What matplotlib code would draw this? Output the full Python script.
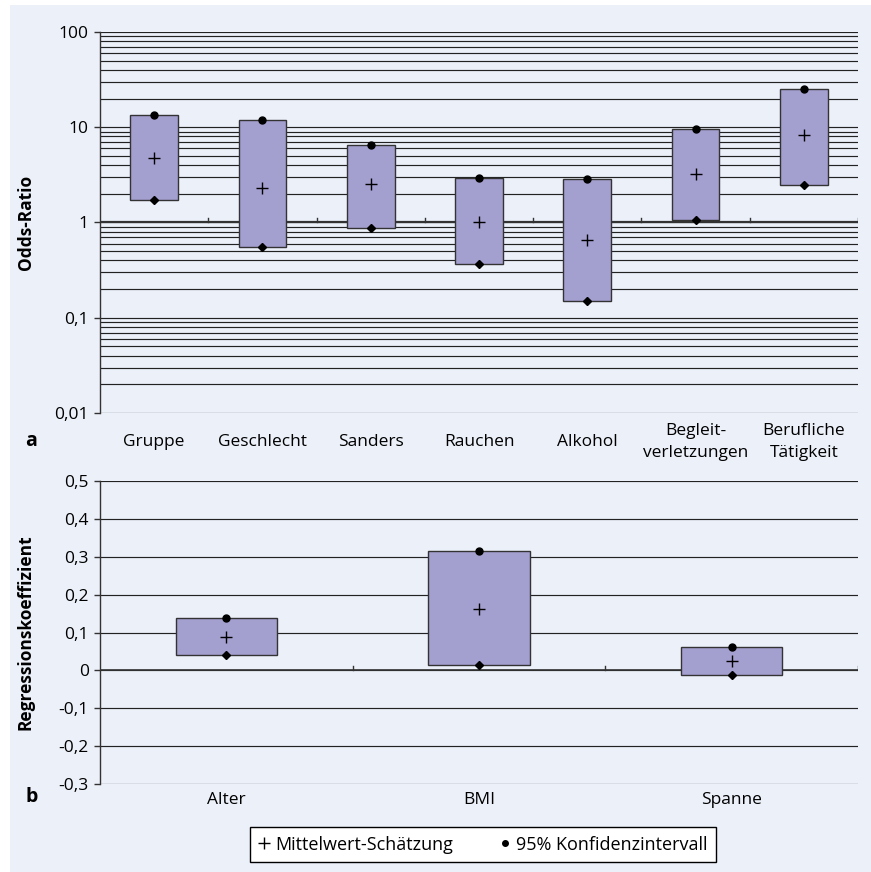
import numpy as np
import matplotlib.pyplot as plt
import matplotlib.patches as mpatches
from matplotlib.lines import Line2D

plt.rcParams['font.family'] = ['Open Sans', 'DejaVu Sans']

# panel a: odds ratios
cats_a = ['Gruppe', 'Geschlecht', 'Sanders', 'Rauchen', 'Alkohol',
          'Begleit-\nverletzungen', 'Berufliche\nTätigkeit']
or_mean = [4.75, 2.32, 2.55, 1.02, 0.66, 3.2, 8.2]
or_low = [1.73, 0.55, 0.88, 0.37, 0.15, 1.05, 2.5]
or_high = [13.5, 12.0, 6.5, 2.95, 2.84, 9.5, 25.0]
a_ticks = [0.01, 0.1, 1, 10, 100]
a_ticklabels = ['0,01', '0,1', '1', '10', '100']

# panel b: regression coefficients
cats_b = ['Alter', 'BMI', 'Spanne']
rc_mean = [0.089, 0.161, 0.025]
rc_low = [0.040, 0.014, -0.013]
rc_high = [0.139, 0.314, 0.062]
b_ticks = [-0.3, -0.2, -0.1, 0, 0.1, 0.2, 0.3, 0.4, 0.5]
b_ticklabels = ['-0,3', '-0,2', '-0,1', '0', '0,1', '0,2', '0,3', '0,4', '0,5']

bg = '#ecf0f9'
box_col = '#a39fcf'
grid_col = '#222222'
W, H = 871, 872

fig = plt.figure(figsize=(W / 100, H / 100), dpi=100, facecolor='white')
fig.patches.append(mpatches.Rectangle((10 / W, 0), 1 - 10 / W, 1 - 5 / H,
                                      transform=fig.transFigure, facecolor=bg,
                                      edgecolor='none', zorder=-5))

left = 100 / W
width = (858 - 100) / W
ax1 = fig.add_axes([left, 1 - 413 / H, width, (413 - 32) / H])
ax2 = fig.add_axes([left, 1 - 784 / H, width, (784 - 481) / H])


def style(ax, ticks, labels, ylab):
    ax.set_facecolor('none')
    for s in ['top', 'right', 'bottom']:
        ax.spines[s].set_visible(False)
    ax.spines['left'].set_color('#333333')
    ax.spines['left'].set_linewidth(1.0)
    ax.set_yticks(ticks, labels)
    ax.tick_params(axis='y', which='major', length=4, width=1, color='#333333',
                   labelsize=12.5, pad=4)
    ax.tick_params(axis='y', which='minor', length=0, labelleft=False)
    ax.tick_params(axis='x', length=0, labelsize=12.5)
    ax.set_ylabel(ylab, fontsize=12.5, fontweight='bold')
    ax.yaxis.set_label_coords(-65 / 758, 0.5)
    ax.set_axisbelow(True)


# ---- panel a
x_a = np.arange(len(cats_a)) + 0.5
ax1.set_yscale('log')
ax1.set_ylim(0.01, 100)
ax1.set_xlim(0, len(cats_a))
style(ax1, a_ticks, a_ticklabels, 'Odds-Ratio')
ax1.grid(True, axis='y', which='both', color=grid_col, lw=0.85)
ax1.axhline(1, color='#333333', lw=1.6, zorder=1)
f1 = (np.log10(1) - np.log10(0.01)) / (np.log10(100) - np.log10(0.01))
for k in range(1, len(cats_a) + 1):
    ax1.axvline(k, ymin=f1, ymax=f1 + 0.012, color='#333333', lw=1)

lo = np.array(or_low)
hi = np.array(or_high)
ax1.bar(x_a, hi - lo, bottom=lo, width=0.44, color=box_col,
        edgecolor='#333333', lw=1, zorder=3)
ax1.plot(x_a, or_high, 'o', color='black', ms=5, zorder=4)
ax1.plot(x_a, or_low, 'D', color='black', ms=3.8, zorder=4)
ax1.plot(x_a, or_mean, '+', color='black', ms=9, mew=1, zorder=4)
ax1.set_xticks(x_a, cats_a)
ax1.tick_params(axis='x', pad=21)
for t in ax1.get_xticklabels():
    t.set_va('center')
    t.set_linespacing(1.45)

# ---- panel b
x_b = np.arange(len(cats_b)) + 0.5
ax2.set_ylim(-0.3, 0.5)
ax2.set_xlim(0, len(cats_b))
style(ax2, b_ticks, b_ticklabels, 'Regressionskoeffizient')
ax2.grid(True, axis='y', which='major', color=grid_col, lw=0.85)
ax2.axhline(0, color='#333333', lw=1.2, zorder=1)
f2 = 0.3 / 0.8
for k in range(1, len(cats_b) + 1):
    ax2.axvline(k, ymin=f2, ymax=f2 + 0.014, color='#333333', lw=1)

lo = np.array(rc_low)
hi = np.array(rc_high)
ax2.bar(x_b, hi - lo, bottom=lo, width=0.4, color=box_col,
        edgecolor='#333333', lw=1, zorder=3)
ax2.plot(x_b, rc_high, 'o', color='black', ms=5, zorder=4)
ax2.plot(x_b, rc_low, 'D', color='black', ms=3.8, zorder=4)
ax2.plot(x_b, rc_mean, '+', color='black', ms=9, mew=1, zorder=4)
ax2.set_xticks(x_b, cats_b)
ax2.tick_params(axis='x', pad=6)

# panel letters
fig.text(31 / W, 1 - 441 / H, 'a', fontsize=14, fontweight='bold',
         ha='center', va='center')
fig.text(32 / W, 1 - 797 / H, 'b', fontsize=14, fontweight='bold',
         ha='center', va='center')

# legend
handles = [Line2D([], [], marker='+', ls='none', color='black', ms=8, mew=1),
           Line2D([], [], marker='o', ls='none', color='black', ms=4)]
leg = fig.legend(handles, ['Mittelwert-Schätzung', '95% Konfidenzintervall'],
                 loc='center', bbox_to_anchor=(483 / W, 1 - 844.5 / H), ncol=2,
                 frameon=True, fancybox=False, edgecolor='black', framealpha=1,
                 fontsize=13, handlelength=0.6, handletextpad=0.3,
                 columnspacing=2.6, borderpad=0.45)
leg.get_frame().set_linewidth(1.0)

fig.savefig('out.png', dpi=100, facecolor='white')
